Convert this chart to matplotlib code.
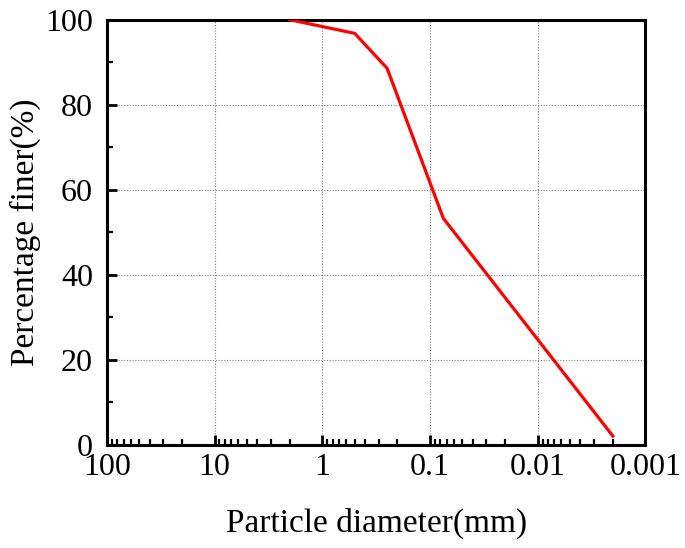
import matplotlib
matplotlib.use("Agg")
import matplotlib.pyplot as plt
from matplotlib.ticker import FixedLocator, MultipleLocator, LogLocator, NullFormatter

plt.rcParams['font.family'] = ['Liberation Serif', 'DejaVu Serif']
plt.rcParams['mathtext.fontset'] = 'stix'

diameter = [2, 0.5, 0.25, 0.075, 0.002]
finer = [100, 96.8, 88.6, 53.3, 2.1]
xticks = [100, 10, 1, 0.1, 0.01, 0.001]
xticklabels = ['100', '10', '1', '0.1', '0.01', '0.001']
yticks = [0, 20, 40, 60, 80, 100]

fig = plt.figure(figsize=(6.85, 5.48), dpi=100)
ax = fig.add_axes([0.156, 0.188, 0.786, 0.776])

ax.plot(diameter, finer, color='#ff0000', lw=2.3, zorder=3)

ax.set_xscale('log')
ax.set_xlim(100, 0.001)
ax.set_ylim(0, 100)
ax.xaxis.set_major_locator(FixedLocator(xticks))
ax.set_xticklabels(xticklabels)
ax.xaxis.set_minor_locator(LogLocator(base=10, subs=range(2, 10), numticks=20))
ax.xaxis.set_minor_formatter(NullFormatter())
ax.set_yticks(yticks)
ax.yaxis.set_minor_locator(MultipleLocator(10))

ax.grid(True, which='major', linestyle=(0, (1, 1.5)), color='#808080', lw=0.8)

for s in ax.spines.values():
    s.set_linewidth(2.2)

ax.tick_params(which='major', direction='in', length=7, width=2, labelsize=23,
               top=False, right=False, pad=6)
ax.tick_params(which='minor', direction='in', length=4, width=1.6,
               top=False, right=False)
ax.tick_params(axis='y', pad=10)

ax.set_xlabel('Particle diameter(mm)', fontsize=24, labelpad=18)
ax.set_ylabel('Percentage finer(%)', fontsize=24, labelpad=3)

fig.savefig('out.png', dpi=100)
